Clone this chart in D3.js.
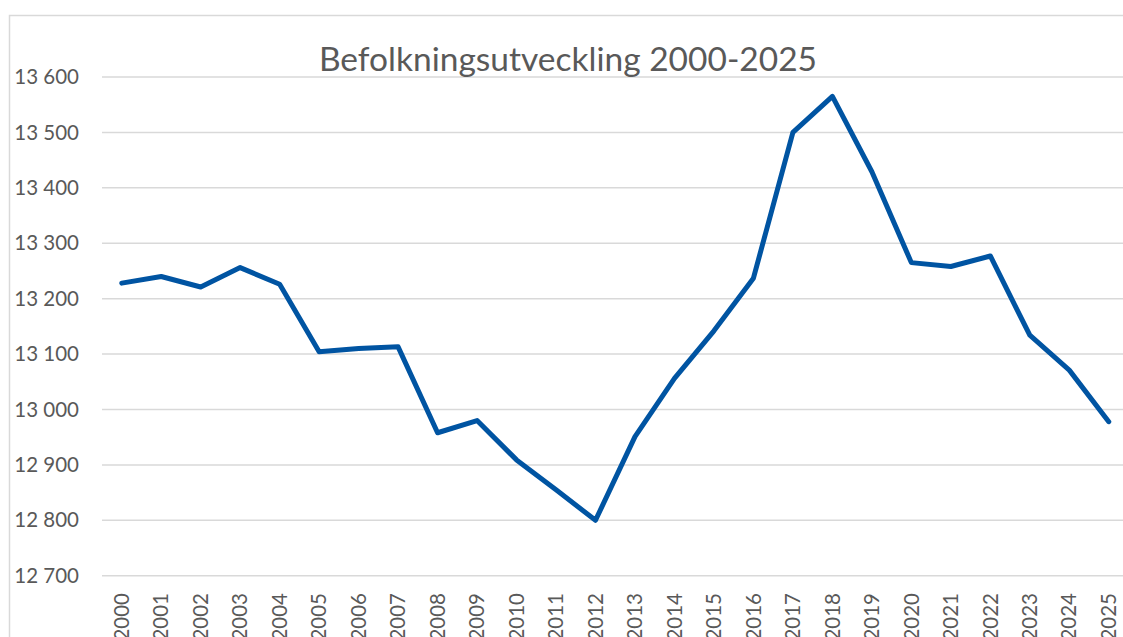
<!DOCTYPE html>
<html>
<head>
<meta charset="utf-8">
<script src="https://cdn.jsdelivr.net/npm/d3@7"></script>
<style>
    body { margin: 0; background: #fff; overflow: hidden; }
    text { font-family: Lato, "Open Sans", sans-serif; }
</style>
</head>
<body>
<div id="chart"></div>
<script>
// Befolkningsutveckling 2000-2025 (line chart)
const years = ["2000", "2001", "2002", "2003", "2004", "2005", "2006", "2007", "2008", "2009",
    "2010", "2011", "2012", "2013", "2014", "2015", "2016", "2017", "2018", "2019",
    "2020", "2021", "2022", "2023", "2024", "2025"];
const population = [13228, 13240, 13221, 13256, 13226, 13104, 13110, 13113, 12958, 12980,
    12909, 12855, 12800, 12951, 13056, 13142, 13237, 13500, 13565, 13429,
    13265, 13258, 13277, 13134, 13071, 12978];
const yTicks = [12700, 12800, 12900, 13000, 13100, 13200, 13300, 13400, 13500, 13600];
const title = "Befolkningsutveckling 2000-2025";

{
    const W = 1123, H = 637;
    const plot = { left: 102, right: 1128.5, top: 77, bottom: 575.7 };

    const svg = d3.select("#chart")
        .append("svg")
        .attr("width", W)
        .attr("height", H);

    // chart area frame (cut off at right/bottom like the source)
    svg.append("rect")
        .attr("x", 9.5).attr("y", 15.5)
        .attr("width", 1200).attr("height", 700)
        .attr("fill", "#fff")
        .attr("stroke", "#d9d9d9")
        .attr("stroke-width", 1.5);

    const x = d3.scaleBand()
        .domain(years)
        .range([plot.left, plot.right]);

    const y = d3.scaleLinear()
        .domain([12700, 13600])
        .range([plot.bottom, plot.top]);

    const fmt = d => d3.format(",")(d).replace(",", " ");

    // gridlines
    svg.append("g")
        .selectAll("line")
        .data(yTicks)
        .enter()
        .append("line")
        .attr("x1", plot.left).attr("x2", W + 10)
        .attr("y1", d => y(d)).attr("y2", d => y(d))
        .attr("stroke", "#d9d9d9")
        .attr("stroke-width", 1.5);

    // y axis labels
    svg.append("g")
        .selectAll("text")
        .data(yTicks)
        .enter()
        .append("text")
        .attr("x", 79)
        .attr("y", d => y(d))
        .attr("dy", "0.35em")
        .attr("text-anchor", "end")
        .attr("font-size", "20.5px")
        .attr("fill", "#595959")
        .text(fmt);

    // x axis labels (rotated, run past the bottom edge as in the source)
    svg.append("g")
        .selectAll("text")
        .data(years)
        .enter()
        .append("text")
        .attr("transform", d => `translate(${x(d) + x.bandwidth() / 2},593) rotate(-90)`)
        .attr("dy", "0.35em")
        .attr("text-anchor", "end")
        .attr("font-size", "20.5px")
        .attr("fill", "#595959")
        .text(d => d);

    // line
    const line = d3.line()
        .x((d, i) => x(years[i]) + x.bandwidth() / 2)
        .y(d => y(d));

    svg.append("path")
        .datum(population)
        .attr("d", line)
        .attr("fill", "none")
        .attr("stroke", "#0054a2")
        .attr("stroke-width", 5)
        .attr("stroke-linejoin", "round")
        .attr("stroke-linecap", "round");

    // title
    svg.append("text")
        .attr("x", 568)
        .attr("y", 71)
        .attr("text-anchor", "middle")
        .attr("font-size", "33.5px")
        .attr("fill", "#595959")
        .text(title);
}
</script>
</body>
</html>
